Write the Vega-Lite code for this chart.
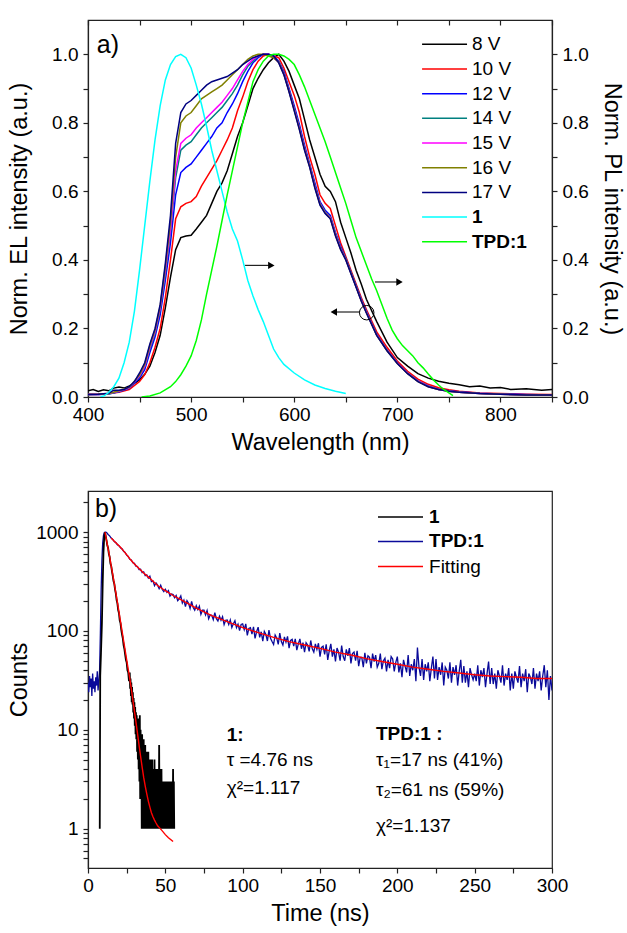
{
"$schema": "https://vega.github.io/schema/vega-lite/v6.json",
"padding": {"left": 6, "top": 18, "right": 0, "bottom": 0},
"spacing": 35,
"config": {
  "font": "Liberation Sans",
  "view": {"stroke": "#222", "strokeWidth": 1.2},
  "axis": {"domainColor": "#222", "domainWidth": 1.2, "tickColor": "#222", "tickWidth": 1.2, "tickSize": 5, "labelFontSize": 19, "labelColor": "#000", "titleFontSize": 23.5, "titleFontWeight": "normal", "titleColor": "#000", "grid": false, "labelFont": "Liberation Sans", "titleFont": "Liberation Sans", "labelOverlap": false, "labelBound": false, "labelFlush": false},
  "axisX": {"labelPadding": 3, "titlePadding": 6},
  "axisY": {"labelPadding": 5},
  "text": {"font": "Liberation Sans"}
},
"resolve": {"scale": {"color": "independent"}},
"datasets": {
"el": [
{"s":"8 V","wl":400,"i":0.018},{"s":"8 V","wl":405,"i":0.022},{"s":"8 V","wl":410,"i":0.016},{"s":"8 V","wl":415,"i":0.021},{"s":"8 V","wl":420,"i":0.018},{"s":"8 V","wl":425,"i":0.026},{"s":"8 V","wl":430,"i":0.029},{"s":"8 V","wl":435,"i":0.026},{"s":"8 V","wl":440,"i":0.032},{"s":"8 V","wl":445,"i":0.04},{"s":"8 V","wl":450,"i":0.05},{"s":"8 V","wl":455,"i":0.066},{"s":"8 V","wl":460,"i":0.09},{"s":"8 V","wl":465,"i":0.13},{"s":"8 V","wl":470,"i":0.18},{"s":"8 V","wl":475,"i":0.26},{"s":"8 V","wl":480,"i":0.35},{"s":"8 V","wl":485,"i":0.43},{"s":"8 V","wl":490,"i":0.465},{"s":"8 V","wl":495,"i":0.47},{"s":"8 V","wl":500,"i":0.472},{"s":"8 V","wl":505,"i":0.49},{"s":"8 V","wl":510,"i":0.51},{"s":"8 V","wl":515,"i":0.53},{"s":"8 V","wl":520,"i":0.565},{"s":"8 V","wl":525,"i":0.6},{"s":"8 V","wl":530,"i":0.625},{"s":"8 V","wl":535,"i":0.66},{"s":"8 V","wl":540,"i":0.71},{"s":"8 V","wl":545,"i":0.76},{"s":"8 V","wl":550,"i":0.8},{"s":"8 V","wl":555,"i":0.85},{"s":"8 V","wl":560,"i":0.9},{"s":"8 V","wl":565,"i":0.93},{"s":"8 V","wl":570,"i":0.955},{"s":"8 V","wl":575,"i":0.975},{"s":"8 V","wl":580,"i":0.99},{"s":"8 V","wl":585,"i":1.0},{"s":"8 V","wl":590,"i":0.98},{"s":"8 V","wl":595,"i":0.95},{"s":"8 V","wl":600,"i":0.91},{"s":"8 V","wl":605,"i":0.87},{"s":"8 V","wl":610,"i":0.81},{"s":"8 V","wl":615,"i":0.75},{"s":"8 V","wl":620,"i":0.7},{"s":"8 V","wl":625,"i":0.65},{"s":"8 V","wl":630,"i":0.615},{"s":"8 V","wl":635,"i":0.6},{"s":"8 V","wl":640,"i":0.57},{"s":"8 V","wl":645,"i":0.51},{"s":"8 V","wl":650,"i":0.465},{"s":"8 V","wl":655,"i":0.42},{"s":"8 V","wl":660,"i":0.37},{"s":"8 V","wl":665,"i":0.33},{"s":"8 V","wl":670,"i":0.285},{"s":"8 V","wl":680,"i":0.22},{"s":"8 V","wl":690,"i":0.16},{"s":"8 V","wl":700,"i":0.115},{"s":"8 V","wl":710,"i":0.09},{"s":"8 V","wl":720,"i":0.068},{"s":"8 V","wl":730,"i":0.055},{"s":"8 V","wl":740,"i":0.046},{"s":"8 V","wl":750,"i":0.04},{"s":"8 V","wl":760,"i":0.036},{"s":"8 V","wl":770,"i":0.03},{"s":"8 V","wl":780,"i":0.032},{"s":"8 V","wl":790,"i":0.026},{"s":"8 V","wl":800,"i":0.028},{"s":"8 V","wl":810,"i":0.022},{"s":"8 V","wl":825,"i":0.024},{"s":"8 V","wl":840,"i":0.02},{"s":"8 V","wl":850,"i":0.022},
{"s":"10 V","wl":400,"i":0.008},{"s":"10 V","wl":410,"i":0.008},{"s":"10 V","wl":420,"i":0.01},{"s":"10 V","wl":430,"i":0.014},{"s":"10 V","wl":440,"i":0.022},{"s":"10 V","wl":450,"i":0.045},{"s":"10 V","wl":455,"i":0.065},{"s":"10 V","wl":460,"i":0.1},{"s":"10 V","wl":465,"i":0.145},{"s":"10 V","wl":470,"i":0.2},{"s":"10 V","wl":475,"i":0.29},{"s":"10 V","wl":480,"i":0.4},{"s":"10 V","wl":485,"i":0.52},{"s":"10 V","wl":490,"i":0.555},{"s":"10 V","wl":495,"i":0.565},{"s":"10 V","wl":500,"i":0.57},{"s":"10 V","wl":505,"i":0.585},{"s":"10 V","wl":510,"i":0.615},{"s":"10 V","wl":515,"i":0.64},{"s":"10 V","wl":520,"i":0.665},{"s":"10 V","wl":525,"i":0.69},{"s":"10 V","wl":530,"i":0.72},{"s":"10 V","wl":535,"i":0.75},{"s":"10 V","wl":540,"i":0.785},{"s":"10 V","wl":545,"i":0.835},{"s":"10 V","wl":550,"i":0.875},{"s":"10 V","wl":555,"i":0.92},{"s":"10 V","wl":560,"i":0.955},{"s":"10 V","wl":565,"i":0.98},{"s":"10 V","wl":570,"i":0.995},{"s":"10 V","wl":575,"i":1.0},{"s":"10 V","wl":580,"i":0.995},{"s":"10 V","wl":585,"i":0.99},{"s":"10 V","wl":590,"i":0.96},{"s":"10 V","wl":595,"i":0.92},{"s":"10 V","wl":600,"i":0.88},{"s":"10 V","wl":605,"i":0.83},{"s":"10 V","wl":610,"i":0.76},{"s":"10 V","wl":615,"i":0.7},{"s":"10 V","wl":620,"i":0.65},{"s":"10 V","wl":625,"i":0.59},{"s":"10 V","wl":630,"i":0.565},{"s":"10 V","wl":635,"i":0.55},{"s":"10 V","wl":640,"i":0.5},{"s":"10 V","wl":645,"i":0.45},{"s":"10 V","wl":650,"i":0.41},{"s":"10 V","wl":655,"i":0.37},{"s":"10 V","wl":660,"i":0.33},{"s":"10 V","wl":665,"i":0.29},{"s":"10 V","wl":670,"i":0.255},{"s":"10 V","wl":680,"i":0.19},{"s":"10 V","wl":690,"i":0.145},{"s":"10 V","wl":700,"i":0.105},{"s":"10 V","wl":710,"i":0.075},{"s":"10 V","wl":720,"i":0.052},{"s":"10 V","wl":730,"i":0.037},{"s":"10 V","wl":740,"i":0.027},{"s":"10 V","wl":750,"i":0.021},{"s":"10 V","wl":760,"i":0.017},{"s":"10 V","wl":780,"i":0.012},{"s":"10 V","wl":800,"i":0.01},{"s":"10 V","wl":825,"i":0.008},{"s":"10 V","wl":850,"i":0.007},
{"s":"12 V","wl":400,"i":0.007},{"s":"12 V","wl":410,"i":0.007},{"s":"12 V","wl":420,"i":0.009},{"s":"12 V","wl":430,"i":0.015},{"s":"12 V","wl":440,"i":0.025},{"s":"12 V","wl":450,"i":0.055},{"s":"12 V","wl":455,"i":0.08},{"s":"12 V","wl":460,"i":0.13},{"s":"12 V","wl":465,"i":0.175},{"s":"12 V","wl":470,"i":0.24},{"s":"12 V","wl":475,"i":0.34},{"s":"12 V","wl":480,"i":0.45},{"s":"12 V","wl":485,"i":0.59},{"s":"12 V","wl":490,"i":0.655},{"s":"12 V","wl":495,"i":0.67},{"s":"12 V","wl":500,"i":0.68},{"s":"12 V","wl":505,"i":0.7},{"s":"12 V","wl":510,"i":0.72},{"s":"12 V","wl":515,"i":0.74},{"s":"12 V","wl":520,"i":0.76},{"s":"12 V","wl":525,"i":0.785},{"s":"12 V","wl":530,"i":0.8},{"s":"12 V","wl":535,"i":0.83},{"s":"12 V","wl":540,"i":0.855},{"s":"12 V","wl":545,"i":0.885},{"s":"12 V","wl":550,"i":0.92},{"s":"12 V","wl":555,"i":0.95},{"s":"12 V","wl":560,"i":0.975},{"s":"12 V","wl":565,"i":0.99},{"s":"12 V","wl":570,"i":1.0},{"s":"12 V","wl":575,"i":1.0},{"s":"12 V","wl":580,"i":0.995},{"s":"12 V","wl":585,"i":0.98},{"s":"12 V","wl":590,"i":0.95},{"s":"12 V","wl":595,"i":0.9},{"s":"12 V","wl":600,"i":0.85},{"s":"12 V","wl":605,"i":0.795},{"s":"12 V","wl":610,"i":0.735},{"s":"12 V","wl":615,"i":0.68},{"s":"12 V","wl":620,"i":0.625},{"s":"12 V","wl":625,"i":0.57},{"s":"12 V","wl":630,"i":0.545},{"s":"12 V","wl":635,"i":0.53},{"s":"12 V","wl":640,"i":0.48},{"s":"12 V","wl":645,"i":0.44},{"s":"12 V","wl":650,"i":0.405},{"s":"12 V","wl":655,"i":0.365},{"s":"12 V","wl":660,"i":0.325},{"s":"12 V","wl":665,"i":0.285},{"s":"12 V","wl":670,"i":0.25},{"s":"12 V","wl":680,"i":0.183},{"s":"12 V","wl":690,"i":0.137},{"s":"12 V","wl":700,"i":0.1},{"s":"12 V","wl":710,"i":0.07},{"s":"12 V","wl":720,"i":0.047},{"s":"12 V","wl":730,"i":0.032},{"s":"12 V","wl":740,"i":0.023},{"s":"12 V","wl":750,"i":0.018},{"s":"12 V","wl":760,"i":0.015},{"s":"12 V","wl":780,"i":0.011},{"s":"12 V","wl":800,"i":0.009},{"s":"12 V","wl":825,"i":0.007},{"s":"12 V","wl":850,"i":0.006},
{"s":"14 V","wl":400,"i":0.007},{"s":"14 V","wl":410,"i":0.007},{"s":"14 V","wl":420,"i":0.009},{"s":"14 V","wl":430,"i":0.016},{"s":"14 V","wl":440,"i":0.027},{"s":"14 V","wl":450,"i":0.06},{"s":"14 V","wl":455,"i":0.088},{"s":"14 V","wl":460,"i":0.14},{"s":"14 V","wl":465,"i":0.185},{"s":"14 V","wl":470,"i":0.255},{"s":"14 V","wl":475,"i":0.36},{"s":"14 V","wl":480,"i":0.48},{"s":"14 V","wl":485,"i":0.64},{"s":"14 V","wl":490,"i":0.72},{"s":"14 V","wl":495,"i":0.735},{"s":"14 V","wl":500,"i":0.745},{"s":"14 V","wl":505,"i":0.765},{"s":"14 V","wl":510,"i":0.785},{"s":"14 V","wl":515,"i":0.8},{"s":"14 V","wl":520,"i":0.815},{"s":"14 V","wl":525,"i":0.83},{"s":"14 V","wl":530,"i":0.845},{"s":"14 V","wl":535,"i":0.865},{"s":"14 V","wl":540,"i":0.885},{"s":"14 V","wl":545,"i":0.91},{"s":"14 V","wl":550,"i":0.94},{"s":"14 V","wl":555,"i":0.965},{"s":"14 V","wl":560,"i":0.98},{"s":"14 V","wl":565,"i":0.995},{"s":"14 V","wl":570,"i":1.0},{"s":"14 V","wl":575,"i":1.0},{"s":"14 V","wl":580,"i":0.99},{"s":"14 V","wl":585,"i":0.978},{"s":"14 V","wl":590,"i":0.945},{"s":"14 V","wl":595,"i":0.895},{"s":"14 V","wl":600,"i":0.842},{"s":"14 V","wl":605,"i":0.787},{"s":"14 V","wl":610,"i":0.727},{"s":"14 V","wl":615,"i":0.676},{"s":"14 V","wl":620,"i":0.617},{"s":"14 V","wl":625,"i":0.566},{"s":"14 V","wl":630,"i":0.54},{"s":"14 V","wl":635,"i":0.525},{"s":"14 V","wl":640,"i":0.476},{"s":"14 V","wl":645,"i":0.435},{"s":"14 V","wl":650,"i":0.404},{"s":"14 V","wl":655,"i":0.364},{"s":"14 V","wl":660,"i":0.323},{"s":"14 V","wl":665,"i":0.283},{"s":"14 V","wl":670,"i":0.248},{"s":"14 V","wl":680,"i":0.182},{"s":"14 V","wl":690,"i":0.136},{"s":"14 V","wl":700,"i":0.099},{"s":"14 V","wl":710,"i":0.069},{"s":"14 V","wl":720,"i":0.046},{"s":"14 V","wl":730,"i":0.031},{"s":"14 V","wl":740,"i":0.022},{"s":"14 V","wl":750,"i":0.017},{"s":"14 V","wl":760,"i":0.014},{"s":"14 V","wl":780,"i":0.01},{"s":"14 V","wl":800,"i":0.008},{"s":"14 V","wl":825,"i":0.006},{"s":"14 V","wl":850,"i":0.006},
{"s":"15 V","wl":400,"i":0.007},{"s":"15 V","wl":410,"i":0.007},{"s":"15 V","wl":420,"i":0.01},{"s":"15 V","wl":430,"i":0.017},{"s":"15 V","wl":440,"i":0.027},{"s":"15 V","wl":450,"i":0.062},{"s":"15 V","wl":455,"i":0.09},{"s":"15 V","wl":460,"i":0.145},{"s":"15 V","wl":465,"i":0.19},{"s":"15 V","wl":470,"i":0.26},{"s":"15 V","wl":475,"i":0.37},{"s":"15 V","wl":480,"i":0.49},{"s":"15 V","wl":485,"i":0.66},{"s":"15 V","wl":490,"i":0.74},{"s":"15 V","wl":495,"i":0.755},{"s":"15 V","wl":500,"i":0.765},{"s":"15 V","wl":505,"i":0.785},{"s":"15 V","wl":510,"i":0.8},{"s":"15 V","wl":515,"i":0.815},{"s":"15 V","wl":520,"i":0.83},{"s":"15 V","wl":525,"i":0.845},{"s":"15 V","wl":530,"i":0.86},{"s":"15 V","wl":535,"i":0.88},{"s":"15 V","wl":540,"i":0.9},{"s":"15 V","wl":545,"i":0.925},{"s":"15 V","wl":550,"i":0.95},{"s":"15 V","wl":555,"i":0.97},{"s":"15 V","wl":560,"i":0.985},{"s":"15 V","wl":565,"i":0.995},{"s":"15 V","wl":570,"i":1.0},{"s":"15 V","wl":575,"i":1.0},{"s":"15 V","wl":580,"i":0.99},{"s":"15 V","wl":585,"i":0.977},{"s":"15 V","wl":590,"i":0.943},{"s":"15 V","wl":595,"i":0.893},{"s":"15 V","wl":600,"i":0.84},{"s":"15 V","wl":605,"i":0.785},{"s":"15 V","wl":610,"i":0.725},{"s":"15 V","wl":615,"i":0.674},{"s":"15 V","wl":620,"i":0.615},{"s":"15 V","wl":625,"i":0.564},{"s":"15 V","wl":630,"i":0.538},{"s":"15 V","wl":635,"i":0.523},{"s":"15 V","wl":640,"i":0.474},{"s":"15 V","wl":645,"i":0.433},{"s":"15 V","wl":650,"i":0.402},{"s":"15 V","wl":655,"i":0.362},{"s":"15 V","wl":660,"i":0.322},{"s":"15 V","wl":665,"i":0.282},{"s":"15 V","wl":670,"i":0.247},{"s":"15 V","wl":680,"i":0.181},{"s":"15 V","wl":690,"i":0.136},{"s":"15 V","wl":700,"i":0.099},{"s":"15 V","wl":710,"i":0.069},{"s":"15 V","wl":720,"i":0.046},{"s":"15 V","wl":730,"i":0.031},{"s":"15 V","wl":740,"i":0.022},{"s":"15 V","wl":750,"i":0.017},{"s":"15 V","wl":760,"i":0.014},{"s":"15 V","wl":780,"i":0.01},{"s":"15 V","wl":800,"i":0.008},{"s":"15 V","wl":825,"i":0.006},{"s":"15 V","wl":850,"i":0.006},
{"s":"16 V","wl":400,"i":0.007},{"s":"16 V","wl":410,"i":0.008},{"s":"16 V","wl":420,"i":0.01},{"s":"16 V","wl":430,"i":0.018},{"s":"16 V","wl":440,"i":0.028},{"s":"16 V","wl":450,"i":0.065},{"s":"16 V","wl":455,"i":0.095},{"s":"16 V","wl":460,"i":0.15},{"s":"16 V","wl":465,"i":0.195},{"s":"16 V","wl":470,"i":0.265},{"s":"16 V","wl":475,"i":0.38},{"s":"16 V","wl":480,"i":0.51},{"s":"16 V","wl":485,"i":0.7},{"s":"16 V","wl":490,"i":0.8},{"s":"16 V","wl":495,"i":0.82},{"s":"16 V","wl":500,"i":0.83},{"s":"16 V","wl":505,"i":0.85},{"s":"16 V","wl":510,"i":0.87},{"s":"16 V","wl":515,"i":0.88},{"s":"16 V","wl":520,"i":0.89},{"s":"16 V","wl":525,"i":0.9},{"s":"16 V","wl":530,"i":0.91},{"s":"16 V","wl":535,"i":0.925},{"s":"16 V","wl":540,"i":0.94},{"s":"16 V","wl":545,"i":0.955},{"s":"16 V","wl":550,"i":0.97},{"s":"16 V","wl":555,"i":0.985},{"s":"16 V","wl":560,"i":0.995},{"s":"16 V","wl":565,"i":1.0},{"s":"16 V","wl":570,"i":1.0},{"s":"16 V","wl":575,"i":0.995},{"s":"16 V","wl":580,"i":0.99},{"s":"16 V","wl":585,"i":0.976},{"s":"16 V","wl":590,"i":0.941},{"s":"16 V","wl":595,"i":0.891},{"s":"16 V","wl":600,"i":0.837},{"s":"16 V","wl":605,"i":0.782},{"s":"16 V","wl":610,"i":0.722},{"s":"16 V","wl":615,"i":0.672},{"s":"16 V","wl":620,"i":0.612},{"s":"16 V","wl":625,"i":0.562},{"s":"16 V","wl":630,"i":0.537},{"s":"16 V","wl":635,"i":0.521},{"s":"16 V","wl":640,"i":0.472},{"s":"16 V","wl":645,"i":0.431},{"s":"16 V","wl":650,"i":0.401},{"s":"16 V","wl":655,"i":0.361},{"s":"16 V","wl":660,"i":0.321},{"s":"16 V","wl":665,"i":0.281},{"s":"16 V","wl":670,"i":0.246},{"s":"16 V","wl":680,"i":0.18},{"s":"16 V","wl":690,"i":0.135},{"s":"16 V","wl":700,"i":0.098},{"s":"16 V","wl":710,"i":0.068},{"s":"16 V","wl":720,"i":0.045},{"s":"16 V","wl":730,"i":0.03},{"s":"16 V","wl":740,"i":0.022},{"s":"16 V","wl":750,"i":0.017},{"s":"16 V","wl":760,"i":0.014},{"s":"16 V","wl":780,"i":0.01},{"s":"16 V","wl":800,"i":0.008},{"s":"16 V","wl":825,"i":0.006},{"s":"16 V","wl":850,"i":0.006},
{"s":"17 V","wl":400,"i":0.007},{"s":"17 V","wl":410,"i":0.008},{"s":"17 V","wl":420,"i":0.011},{"s":"17 V","wl":425,"i":0.02},{"s":"17 V","wl":430,"i":0.02},{"s":"17 V","wl":435,"i":0.022},{"s":"17 V","wl":440,"i":0.03},{"s":"17 V","wl":445,"i":0.045},{"s":"17 V","wl":450,"i":0.07},{"s":"17 V","wl":455,"i":0.1},{"s":"17 V","wl":460,"i":0.155},{"s":"17 V","wl":465,"i":0.2},{"s":"17 V","wl":470,"i":0.27},{"s":"17 V","wl":475,"i":0.39},{"s":"17 V","wl":480,"i":0.53},{"s":"17 V","wl":485,"i":0.74},{"s":"17 V","wl":490,"i":0.83},{"s":"17 V","wl":495,"i":0.855},{"s":"17 V","wl":500,"i":0.865},{"s":"17 V","wl":505,"i":0.88},{"s":"17 V","wl":510,"i":0.895},{"s":"17 V","wl":515,"i":0.91},{"s":"17 V","wl":520,"i":0.92},{"s":"17 V","wl":525,"i":0.925},{"s":"17 V","wl":530,"i":0.93},{"s":"17 V","wl":535,"i":0.935},{"s":"17 V","wl":540,"i":0.945},{"s":"17 V","wl":545,"i":0.955},{"s":"17 V","wl":550,"i":0.97},{"s":"17 V","wl":555,"i":0.98},{"s":"17 V","wl":560,"i":0.99},{"s":"17 V","wl":565,"i":0.995},{"s":"17 V","wl":570,"i":1.0},{"s":"17 V","wl":575,"i":1.0},{"s":"17 V","wl":580,"i":0.995},{"s":"17 V","wl":585,"i":0.975},{"s":"17 V","wl":590,"i":0.94},{"s":"17 V","wl":595,"i":0.89},{"s":"17 V","wl":600,"i":0.835},{"s":"17 V","wl":605,"i":0.78},{"s":"17 V","wl":610,"i":0.72},{"s":"17 V","wl":615,"i":0.67},{"s":"17 V","wl":620,"i":0.61},{"s":"17 V","wl":625,"i":0.56},{"s":"17 V","wl":630,"i":0.535},{"s":"17 V","wl":635,"i":0.52},{"s":"17 V","wl":640,"i":0.47},{"s":"17 V","wl":645,"i":0.43},{"s":"17 V","wl":650,"i":0.4},{"s":"17 V","wl":655,"i":0.36},{"s":"17 V","wl":660,"i":0.32},{"s":"17 V","wl":665,"i":0.28},{"s":"17 V","wl":670,"i":0.245},{"s":"17 V","wl":680,"i":0.18},{"s":"17 V","wl":690,"i":0.135},{"s":"17 V","wl":700,"i":0.098},{"s":"17 V","wl":710,"i":0.068},{"s":"17 V","wl":720,"i":0.045},{"s":"17 V","wl":730,"i":0.03},{"s":"17 V","wl":740,"i":0.022},{"s":"17 V","wl":750,"i":0.017},{"s":"17 V","wl":760,"i":0.014},{"s":"17 V","wl":780,"i":0.01},{"s":"17 V","wl":800,"i":0.008},{"s":"17 V","wl":825,"i":0.006},{"s":"17 V","wl":850,"i":0.006}
],
"pl": [
{"s":"1","wl":412,"i":0.0},{"s":"1","wl":416,"i":0.004},{"s":"1","wl":420,"i":0.013},{"s":"1","wl":425,"i":0.03},{"s":"1","wl":430,"i":0.055},{"s":"1","wl":435,"i":0.1},{"s":"1","wl":440,"i":0.16},{"s":"1","wl":445,"i":0.25},{"s":"1","wl":450,"i":0.37},{"s":"1","wl":455,"i":0.5},{"s":"1","wl":460,"i":0.63},{"s":"1","wl":465,"i":0.75},{"s":"1","wl":470,"i":0.85},{"s":"1","wl":475,"i":0.925},{"s":"1","wl":480,"i":0.97},{"s":"1","wl":485,"i":0.993},{"s":"1","wl":490,"i":1.0},{"s":"1","wl":495,"i":0.99},{"s":"1","wl":500,"i":0.96},{"s":"1","wl":505,"i":0.91},{"s":"1","wl":510,"i":0.855},{"s":"1","wl":515,"i":0.79},{"s":"1","wl":520,"i":0.72},{"s":"1","wl":525,"i":0.66},{"s":"1","wl":530,"i":0.6},{"s":"1","wl":535,"i":0.54},{"s":"1","wl":540,"i":0.49},{"s":"1","wl":545,"i":0.455},{"s":"1","wl":550,"i":0.4},{"s":"1","wl":555,"i":0.34},{"s":"1","wl":560,"i":0.295},{"s":"1","wl":565,"i":0.255},{"s":"1","wl":570,"i":0.22},{"s":"1","wl":575,"i":0.18},{"s":"1","wl":580,"i":0.14},{"s":"1","wl":585,"i":0.115},{"s":"1","wl":590,"i":0.095},{"s":"1","wl":600,"i":0.07},{"s":"1","wl":610,"i":0.05},{"s":"1","wl":620,"i":0.035},{"s":"1","wl":630,"i":0.025},{"s":"1","wl":640,"i":0.017},{"s":"1","wl":650,"i":0.01},
{"s":"TPD:1","wl":452,"i":0.0},{"s":"TPD:1","wl":460,"i":0.003},{"s":"TPD:1","wl":470,"i":0.012},{"s":"TPD:1","wl":480,"i":0.03},{"s":"TPD:1","wl":485,"i":0.045},{"s":"TPD:1","wl":490,"i":0.065},{"s":"TPD:1","wl":495,"i":0.09},{"s":"TPD:1","wl":500,"i":0.12},{"s":"TPD:1","wl":505,"i":0.165},{"s":"TPD:1","wl":510,"i":0.225},{"s":"TPD:1","wl":515,"i":0.3},{"s":"TPD:1","wl":520,"i":0.37},{"s":"TPD:1","wl":525,"i":0.44},{"s":"TPD:1","wl":530,"i":0.515},{"s":"TPD:1","wl":535,"i":0.59},{"s":"TPD:1","wl":540,"i":0.66},{"s":"TPD:1","wl":545,"i":0.73},{"s":"TPD:1","wl":550,"i":0.8},{"s":"TPD:1","wl":555,"i":0.86},{"s":"TPD:1","wl":560,"i":0.92},{"s":"TPD:1","wl":565,"i":0.955},{"s":"TPD:1","wl":570,"i":0.98},{"s":"TPD:1","wl":575,"i":0.995},{"s":"TPD:1","wl":580,"i":1.0},{"s":"TPD:1","wl":585,"i":1.0},{"s":"TPD:1","wl":590,"i":0.995},{"s":"TPD:1","wl":595,"i":0.985},{"s":"TPD:1","wl":600,"i":0.97},{"s":"TPD:1","wl":605,"i":0.94},{"s":"TPD:1","wl":610,"i":0.905},{"s":"TPD:1","wl":615,"i":0.865},{"s":"TPD:1","wl":620,"i":0.825},{"s":"TPD:1","wl":625,"i":0.785},{"s":"TPD:1","wl":630,"i":0.745},{"s":"TPD:1","wl":635,"i":0.7},{"s":"TPD:1","wl":640,"i":0.655},{"s":"TPD:1","wl":645,"i":0.61},{"s":"TPD:1","wl":650,"i":0.565},{"s":"TPD:1","wl":655,"i":0.515},{"s":"TPD:1","wl":660,"i":0.465},{"s":"TPD:1","wl":665,"i":0.425},{"s":"TPD:1","wl":670,"i":0.385},{"s":"TPD:1","wl":675,"i":0.345},{"s":"TPD:1","wl":680,"i":0.31},{"s":"TPD:1","wl":685,"i":0.27},{"s":"TPD:1","wl":690,"i":0.23},{"s":"TPD:1","wl":695,"i":0.195},{"s":"TPD:1","wl":700,"i":0.17},{"s":"TPD:1","wl":705,"i":0.15},{"s":"TPD:1","wl":710,"i":0.135},{"s":"TPD:1","wl":715,"i":0.12},{"s":"TPD:1","wl":720,"i":0.1},{"s":"TPD:1","wl":725,"i":0.085},{"s":"TPD:1","wl":730,"i":0.067},{"s":"TPD:1","wl":735,"i":0.05},{"s":"TPD:1","wl":740,"i":0.035},{"s":"TPD:1","wl":745,"i":0.022},{"s":"TPD:1","wl":750,"i":0.012},{"s":"TPD:1","wl":754,"i":0.004}
],
"legTop": [
{"s":"8 V","ly":1.029},{"s":"10 V","ly":0.957},{"s":"12 V","ly":0.885},{"s":"14 V","ly":0.813},{"s":"15 V","ly":0.741},{"s":"16 V","ly":0.669},{"s":"17 V","ly":0.597},{"s":"1","ly":0.525},{"s":"TPD:1","ly":0.453}
],
"decay": [
{"s":"TPD:1","t":0,"c":30},{"s":"TPD:1","t":0.5,"c":24},{"s":"TPD:1","t":1,"c":35},{"s":"TPD:1","t":1.5,"c":27},{"s":"TPD:1","t":2,"c":33},{"s":"TPD:1","t":2.5,"c":22},{"s":"TPD:1","t":3,"c":37},{"s":"TPD:1","t":3.5,"c":26},{"s":"TPD:1","t":4,"c":31},{"s":"TPD:1","t":4.5,"c":24},{"s":"TPD:1","t":5,"c":34},{"s":"TPD:1","t":5.5,"c":28},{"s":"TPD:1","t":6,"c":39},{"s":"TPD:1","t":6.5,"c":25},{"s":"TPD:1","t":7,"c":31},{"s":"TPD:1","t":7.5,"c":40},{"s":"TPD:1","t":8,"c":95},{"s":"TPD:1","t":8.5,"c":260},{"s":"TPD:1","t":9,"c":520},{"s":"TPD:1","t":9.5,"c":780},{"s":"TPD:1","t":10,"c":920},{"s":"TPD:1","t":10.5,"c":985},{"s":"TPD:1","t":11,"c":1000},{"s":"TPD:1","t":11.5,"c":1000},
{"s":"TPD:1","t":12,"c":990},{"s":"TPD:1","t":13,"c":945},{"s":"TPD:1","t":14,"c":915},{"s":"TPD:1","t":15,"c":870},{"s":"TPD:1","t":16,"c":842},{"s":"TPD:1","t":17,"c":800},{"s":"TPD:1","t":18,"c":782},{"s":"TPD:1","t":19,"c":745},{"s":"TPD:1","t":20,"c":728},{"s":"TPD:1","t":21,"c":692},{"s":"TPD:1","t":22,"c":676},{"s":"TPD:1","t":23,"c":640},{"s":"TPD:1","t":24,"c":622},{"s":"TPD:1","t":25,"c":583},{"s":"TPD:1","t":26,"c":566},{"s":"TPD:1","t":27,"c":530},{"s":"TPD:1","t":28,"c":522},{"s":"TPD:1","t":29,"c":488},{"s":"TPD:1","t":30,"c":482},{"s":"TPD:1","t":31,"c":452},{"s":"TPD:1","t":32,"c":448},{"s":"TPD:1","t":33,"c":418},{"s":"TPD:1","t":34,"c":420},{"s":"TPD:1","t":35,"c":388},{"s":"TPD:1","t":36,"c":395},{"s":"TPD:1","t":37,"c":362},{"s":"TPD:1","t":38,"c":368},{"s":"TPD:1","t":39,"c":342},
{"s":"TPD:1","t":40,"c":358},{"s":"TPD:1","t":41,"c":315},{"s":"TPD:1","t":42,"c":321},{"s":"TPD:1","t":43,"c":287},{"s":"TPD:1","t":44,"c":305},{"s":"TPD:1","t":45,"c":290},{"s":"TPD:1","t":46,"c":267},{"s":"TPD:1","t":47,"c":289},{"s":"TPD:1","t":48,"c":262},{"s":"TPD:1","t":49,"c":250},{"s":"TPD:1","t":50,"c":264},{"s":"TPD:1","t":51,"c":246},{"s":"TPD:1","t":52,"c":256},{"s":"TPD:1","t":53,"c":225},{"s":"TPD:1","t":54,"c":236},{"s":"TPD:1","t":55,"c":233},{"s":"TPD:1","t":56,"c":217},{"s":"TPD:1","t":57,"c":228},{"s":"TPD:1","t":58,"c":202},{"s":"TPD:1","t":59,"c":211},
{"s":"TPD:1","t":60,"c":226},{"s":"TPD:1","t":61,"c":191},{"s":"TPD:1","t":62,"c":205},{"s":"TPD:1","t":63,"c":176},{"s":"TPD:1","t":64,"c":202},{"s":"TPD:1","t":65,"c":190},{"s":"TPD:1","t":66,"c":169},{"s":"TPD:1","t":67,"c":199},{"s":"TPD:1","t":68,"c":172},{"s":"TPD:1","t":69,"c":162},{"s":"TPD:1","t":70,"c":180},{"s":"TPD:1","t":71,"c":164},{"s":"TPD:1","t":72,"c":178},{"s":"TPD:1","t":73,"c":147},{"s":"TPD:1","t":74,"c":162},{"s":"TPD:1","t":75,"c":162},{"s":"TPD:1","t":76,"c":145},{"s":"TPD:1","t":77,"c":161},{"s":"TPD:1","t":78,"c":133},{"s":"TPD:1","t":79,"c":145},
{"s":"TPD:1","t":80,"c":144},{"s":"TPD:1","t":81,"c":130},{"s":"TPD:1","t":82,"c":153},{"s":"TPD:1","t":83,"c":133},{"s":"TPD:1","t":84,"c":126},{"s":"TPD:1","t":85,"c":141},{"s":"TPD:1","t":86,"c":128},{"s":"TPD:1","t":87,"c":139},{"s":"TPD:1","t":88,"c":116},{"s":"TPD:1","t":89,"c":128},{"s":"TPD:1","t":90,"c":129},{"s":"TPD:1","t":91,"c":116},{"s":"TPD:1","t":92,"c":129},{"s":"TPD:1","t":93,"c":108},{"s":"TPD:1","t":94,"c":118},{"s":"TPD:1","t":95,"c":127},{"s":"TPD:1","t":96,"c":108},{"s":"TPD:1","t":97,"c":117},{"s":"TPD:1","t":98,"c":101},{"s":"TPD:1","t":99,"c":116},
{"s":"TPD:1","t":100,"c":118},{"s":"TPD:1","t":101,"c":103},{"s":"TPD:1","t":102,"c":118},{"s":"TPD:1","t":103,"c":90},{"s":"TPD:1","t":104,"c":106},{"s":"TPD:1","t":105,"c":108},{"s":"TPD:1","t":106,"c":93},{"s":"TPD:1","t":107,"c":110},{"s":"TPD:1","t":108,"c":84},{"s":"TPD:1","t":109,"c":98},{"s":"TPD:1","t":110,"c":109},{"s":"TPD:1","t":111,"c":86},{"s":"TPD:1","t":112,"c":98},{"s":"TPD:1","t":113,"c":79},{"s":"TPD:1","t":114,"c":99},{"s":"TPD:1","t":115,"c":92},{"s":"TPD:1","t":116,"c":79},{"s":"TPD:1","t":117,"c":102},{"s":"TPD:1","t":118,"c":84},{"s":"TPD:1","t":119,"c":78},
{"s":"TPD:1","t":120,"c":73},{"s":"TPD:1","t":121,"c":91},{"s":"TPD:1","t":122,"c":85},{"s":"TPD:1","t":123,"c":73},{"s":"TPD:1","t":124,"c":95},{"s":"TPD:1","t":125,"c":78},{"s":"TPD:1","t":126,"c":72},{"s":"TPD:1","t":127,"c":87},{"s":"TPD:1","t":128,"c":77},{"s":"TPD:1","t":129,"c":88},{"s":"TPD:1","t":130,"c":67},{"s":"TPD:1","t":131,"c":80},{"s":"TPD:1","t":132,"c":82},{"s":"TPD:1","t":133,"c":70},{"s":"TPD:1","t":134,"c":83},{"s":"TPD:1","t":135,"c":64},{"s":"TPD:1","t":136,"c":74},{"s":"TPD:1","t":137,"c":83},{"s":"TPD:1","t":138,"c":66},{"s":"TPD:1","t":139,"c":76},
{"s":"TPD:1","t":140,"c":61},{"s":"TPD:1","t":141,"c":76},{"s":"TPD:1","t":142,"c":72},{"s":"TPD:1","t":143,"c":62},{"s":"TPD:1","t":144,"c":80},{"s":"TPD:1","t":145,"c":66},{"s":"TPD:1","t":146,"c":61},{"s":"TPD:1","t":147,"c":74},{"s":"TPD:1","t":148,"c":65},{"s":"TPD:1","t":149,"c":75},
{"s":"TPD:1","t":150,"c":55},{"s":"TPD:1","t":151,"c":68},{"s":"TPD:1","t":152,"c":70},{"s":"TPD:1","t":153,"c":58},{"s":"TPD:1","t":154,"c":73},{"s":"TPD:1","t":155,"c":51},{"s":"TPD:1","t":156,"c":63},{"s":"TPD:1","t":157,"c":74},{"s":"TPD:1","t":158,"c":55},{"s":"TPD:1","t":159,"c":65},{"s":"TPD:1","t":160,"c":49},{"s":"TPD:1","t":161,"c":67},{"s":"TPD:1","t":162,"c":61},{"s":"TPD:1","t":163,"c":50},{"s":"TPD:1","t":164,"c":71},{"s":"TPD:1","t":165,"c":55},{"s":"TPD:1","t":166,"c":50},{"s":"TPD:1","t":167,"c":65},{"s":"TPD:1","t":168,"c":56},{"s":"TPD:1","t":169,"c":67},{"s":"TPD:1","t":170,"c":47},{"s":"TPD:1","t":171,"c":59},{"s":"TPD:1","t":172,"c":61},{"s":"TPD:1","t":173,"c":50},{"s":"TPD:1","t":174,"c":63},{"s":"TPD:1","t":175,"c":44},{"s":"TPD:1","t":176,"c":54},{"s":"TPD:1","t":177,"c":54},{"s":"TPD:1","t":178,"c":43},{"s":"TPD:1","t":179,"c":60},{"s":"TPD:1","t":180,"c":47},{"s":"TPD:1","t":181,"c":56},{"s":"TPD:1","t":182,"c":54},{"s":"TPD:1","t":183,"c":42},{"s":"TPD:1","t":184,"c":59},{"s":"TPD:1","t":185,"c":49},{"s":"TPD:1","t":186,"c":57},{"s":"TPD:1","t":187,"c":43},{"s":"TPD:1","t":188,"c":47},{"s":"TPD:1","t":189,"c":59},{"s":"TPD:1","t":190,"c":41},{"s":"TPD:1","t":191,"c":50},{"s":"TPD:1","t":192,"c":53},{"s":"TPD:1","t":193,"c":39},{"s":"TPD:1","t":194,"c":51},{"s":"TPD:1","t":195,"c":42},{"s":"TPD:1","t":196,"c":55},{"s":"TPD:1","t":197,"c":52},{"s":"TPD:1","t":198,"c":39},{"s":"TPD:1","t":199,"c":48},
{"s":"TPD:1","t":200,"c":55},{"s":"TPD:1","t":201,"c":38},{"s":"TPD:1","t":202,"c":47},{"s":"TPD:1","t":203,"c":34},{"s":"TPD:1","t":204,"c":51},{"s":"TPD:1","t":205,"c":44},{"s":"TPD:1","t":206,"c":38},{"s":"TPD:1","t":207,"c":57},{"s":"TPD:1","t":208,"c":35},{"s":"TPD:1","t":209,"c":46},{"s":"TPD:1","t":210,"c":40},{"s":"TPD:1","t":211,"c":52},{"s":"TPD:1","t":212,"c":31},{"s":"TPD:1","t":213,"c":68},{"s":"TPD:1","t":214,"c":43},{"s":"TPD:1","t":215,"c":35},{"s":"TPD:1","t":216,"c":52},{"s":"TPD:1","t":217,"c":32},{"s":"TPD:1","t":218,"c":46},{"s":"TPD:1","t":219,"c":39},{"s":"TPD:1","t":220,"c":48},{"s":"TPD:1","t":221,"c":31},{"s":"TPD:1","t":222,"c":42},{"s":"TPD:1","t":223,"c":55},{"s":"TPD:1","t":224,"c":33},
{"s":"TPD:1","t":225,"c":52},{"s":"TPD:1","t":226,"c":32},{"s":"TPD:1","t":227,"c":43},{"s":"TPD:1","t":228,"c":36},{"s":"TPD:1","t":229,"c":48},{"s":"TPD:1","t":230,"c":28},{"s":"TPD:1","t":231,"c":43},{"s":"TPD:1","t":232,"c":40},{"s":"TPD:1","t":233,"c":33},{"s":"TPD:1","t":234,"c":48},{"s":"TPD:1","t":235,"c":30},{"s":"TPD:1","t":236,"c":43},{"s":"TPD:1","t":237,"c":36},{"s":"TPD:1","t":238,"c":45},{"s":"TPD:1","t":239,"c":28},{"s":"TPD:1","t":240,"c":39},{"s":"TPD:1","t":241,"c":51},{"s":"TPD:1","t":242,"c":30},{"s":"TPD:1","t":243,"c":44},{"s":"TPD:1","t":244,"c":30},{"s":"TPD:1","t":245,"c":39},{"s":"TPD:1","t":246,"c":27},{"s":"TPD:1","t":247,"c":42},{"s":"TPD:1","t":248,"c":36},{"s":"TPD:1","t":249,"c":32},
{"s":"TPD:1","t":250,"c":37},{"s":"TPD:1","t":251,"c":31},{"s":"TPD:1","t":252,"c":45},{"s":"TPD:1","t":253,"c":28},{"s":"TPD:1","t":254,"c":40},{"s":"TPD:1","t":255,"c":34},{"s":"TPD:1","t":256,"c":42},{"s":"TPD:1","t":257,"c":27},{"s":"TPD:1","t":258,"c":37},{"s":"TPD:1","t":259,"c":49},{"s":"TPD:1","t":260,"c":29},{"s":"TPD:1","t":261,"c":42},{"s":"TPD:1","t":262,"c":29},{"s":"TPD:1","t":263,"c":37},{"s":"TPD:1","t":264,"c":26},{"s":"TPD:1","t":265,"c":40},{"s":"TPD:1","t":266,"c":35},{"s":"TPD:1","t":267,"c":30},{"s":"TPD:1","t":268,"c":45},{"s":"TPD:1","t":269,"c":28},{"s":"TPD:1","t":270,"c":37},{"s":"TPD:1","t":271,"c":32},{"s":"TPD:1","t":272,"c":42},{"s":"TPD:1","t":273,"c":25},{"s":"TPD:1","t":274,"c":37},
{"s":"TPD:1","t":275,"c":26},{"s":"TPD:1","t":276,"c":39},{"s":"TPD:1","t":277,"c":34},{"s":"TPD:1","t":278,"c":30},{"s":"TPD:1","t":279,"c":44},{"s":"TPD:1","t":280,"c":27},{"s":"TPD:1","t":281,"c":37},{"s":"TPD:1","t":282,"c":31},{"s":"TPD:1","t":283,"c":41},{"s":"TPD:1","t":284,"c":24},{"s":"TPD:1","t":285,"c":37},{"s":"TPD:1","t":286,"c":34},{"s":"TPD:1","t":287,"c":29},{"s":"TPD:1","t":288,"c":42},{"s":"TPD:1","t":289,"c":26},{"s":"TPD:1","t":290,"c":37},{"s":"TPD:1","t":291,"c":31},{"s":"TPD:1","t":292,"c":39},{"s":"TPD:1","t":293,"c":25},{"s":"TPD:1","t":294,"c":35},{"s":"TPD:1","t":295,"c":45},{"s":"TPD:1","t":296,"c":27},{"s":"TPD:1","t":297,"c":40},{"s":"TPD:1","t":298,"c":20},{"s":"TPD:1","t":299,"c":35},{"s":"TPD:1","t":300,"c":25},
{"s":"1","t":7.6,"c":1},{"s":"1","t":7.9,"c":35},{"s":"1","t":8.4,"c":60},{"s":"1","t":9,"c":120},{"s":"1","t":9.5,"c":300},{"s":"1","t":10,"c":620},{"s":"1","t":10.5,"c":900},{"s":"1","t":11,"c":1000},{"s":"1","t":11.5,"c":900},{"s":"1","t":12,"c":820},{"s":"1","t":12.5,"c":730},{"s":"1","t":13,"c":690},{"s":"1","t":13.5,"c":600},{"s":"1","t":14,"c":560},{"s":"1","t":14.5,"c":480},{"s":"1","t":15,"c":455},{"s":"1","t":15.5,"c":400},{"s":"1","t":16,"c":360},{"s":"1","t":16.5,"c":320},{"s":"1","t":17,"c":300},{"s":"1","t":17.5,"c":262},{"s":"1","t":18,"c":238},{"s":"1","t":18.5,"c":205},{"s":"1","t":19,"c":190},{"s":"1","t":19.5,"c":162},{"s":"1","t":20,"c":152},{"s":"1","t":20.5,"c":128},{"s":"1","t":21,"c":120},{"s":"1","t":21.5,"c":103},{"s":"1","t":22,"c":92},{"s":"1","t":22.5,"c":84},{"s":"1","t":23,"c":72},{"s":"1","t":23.5,"c":66},{"s":"1","t":24,"c":58},{"s":"1","t":24.5,"c":51},{"s":"1","t":25,"c":48},{"s":"1","t":25.5,"c":40},{"s":"1","t":26,"c":38},{"s":"1","t":26.5,"c":31},
{"s":"1","t":27,"c":38},{"s":"1","t":27.25,"c":26},{"s":"1","t":27.5,"c":33},{"s":"1","t":27.75,"c":22},{"s":"1","t":28,"c":30},{"s":"1","t":28.25,"c":19},{"s":"1","t":28.5,"c":27},{"s":"1","t":28.75,"c":18},{"s":"1","t":29,"c":24},{"s":"1","t":29.25,"c":15},{"s":"1","t":29.5,"c":21},{"s":"1","t":29.75,"c":13},{"s":"1","t":30,"c":19},{"s":"1","t":30.25,"c":11},{"s":"1","t":30.5,"c":17},{"s":"1","t":30.75,"c":9},{"s":"1","t":31,"c":15},{"s":"1","t":31.25,"c":8},{"s":"1","t":31.5,"c":14},{"s":"1","t":31.75,"c":6},{"s":"1","t":32,"c":12},{"s":"1","t":32.25,"c":5},{"s":"1","t":32.5,"c":13},{"s":"1","t":32.75,"c":4},{"s":"1","t":33,"c":11},{"s":"1","t":33.25,"c":3},{"s":"1","t":33.5,"c":14},{"s":"1","t":33.75,"c":2},{"s":"1","t":34,"c":10},{"s":"1","t":34.25,"c":3},{"s":"1","t":34.5,"c":8},{"s":"1","t":34.75,"c":1},{"s":"1","t":35,"c":9},{"s":"1","t":35.25,"c":2},{"s":"1","t":35.5,"c":7},{"s":"1","t":35.75,"c":1},{"s":"1","t":36,"c":8},{"s":"1","t":36.25,"c":1},{"s":"1","t":36.5,"c":6},{"s":"1","t":36.75,"c":2},{"s":"1","t":37,"c":7},{"s":"1","t":37.25,"c":1},{"s":"1","t":37.5,"c":5},{"s":"1","t":37.75,"c":1},{"s":"1","t":38,"c":6},{"s":"1","t":38.25,"c":1},{"s":"1","t":38.5,"c":4},{"s":"1","t":38.75,"c":1},{"s":"1","t":39,"c":6},{"s":"1","t":39.25,"c":1},{"s":"1","t":39.5,"c":5},{"s":"1","t":39.75,"c":1},{"s":"1","t":40,"c":4},{"s":"1","t":40.25,"c":1},{"s":"1","t":40.5,"c":5},{"s":"1","t":40.75,"c":1},{"s":"1","t":41,"c":3},{"s":"1","t":41.25,"c":1},{"s":"1","t":41.5,"c":5},{"s":"1","t":41.75,"c":1},{"s":"1","t":42,"c":4},{"s":"1","t":42.25,"c":1},{"s":"1","t":42.5,"c":3},{"s":"1","t":42.75,"c":1},{"s":"1","t":43,"c":5},{"s":"1","t":43.25,"c":1},{"s":"1","t":43.5,"c":3},{"s":"1","t":43.75,"c":1},{"s":"1","t":44,"c":4},{"s":"1","t":44.25,"c":1},{"s":"1","t":44.5,"c":2},{"s":"1","t":44.75,"c":1},{"s":"1","t":45,"c":4},{"s":"1","t":45.25,"c":1},{"s":"1","t":45.5,"c":3},{"s":"1","t":45.75,"c":1},{"s":"1","t":46,"c":7},{"s":"1","t":46.25,"c":1},{"s":"1","t":46.5,"c":4},{"s":"1","t":46.75,"c":1},{"s":"1","t":47,"c":3},{"s":"1","t":47.25,"c":1},{"s":"1","t":47.5,"c":4},{"s":"1","t":47.75,"c":1},{"s":"1","t":48,"c":2},{"s":"1","t":48.25,"c":1},{"s":"1","t":48.5,"c":3},{"s":"1","t":48.75,"c":1},{"s":"1","t":49,"c":3},{"s":"1","t":49.25,"c":1},{"s":"1","t":49.5,"c":2},{"s":"1","t":49.75,"c":1},{"s":"1","t":50,"c":3},{"s":"1","t":50.25,"c":1},{"s":"1","t":50.5,"c":3},{"s":"1","t":50.75,"c":1},{"s":"1","t":51,"c":2},{"s":"1","t":51.25,"c":1},{"s":"1","t":51.5,"c":3},{"s":"1","t":51.75,"c":1},{"s":"1","t":52,"c":3},{"s":"1","t":52.25,"c":1},{"s":"1","t":52.5,"c":2},{"s":"1","t":52.75,"c":1},{"s":"1","t":53,"c":3},{"s":"1","t":53.25,"c":1},{"s":"1","t":53.5,"c":2},{"s":"1","t":53.75,"c":1},{"s":"1","t":54,"c":3},{"s":"1","t":54.25,"c":1},{"s":"1","t":54.5,"c":2},{"s":"1","t":54.75,"c":1},{"s":"1","t":55,"c":4},{"s":"1","t":55.25,"c":1},{"s":"1","t":55.5,"c":3},{"s":"1","t":55.75,"c":1}
],
"fit": [
{"s":"Fitting","curve":"1","t":11,"c":1000},{"s":"Fitting","curve":"1","t":12,"c":820},{"s":"Fitting","curve":"1","t":13,"c":680},{"s":"Fitting","curve":"1","t":14,"c":560},{"s":"Fitting","curve":"1","t":15,"c":455},{"s":"Fitting","curve":"1","t":16,"c":370},{"s":"Fitting","curve":"1","t":17,"c":300},{"s":"Fitting","curve":"1","t":18,"c":242},{"s":"Fitting","curve":"1","t":19,"c":195},{"s":"Fitting","curve":"1","t":20,"c":157},{"s":"Fitting","curve":"1","t":21,"c":125},{"s":"Fitting","curve":"1","t":22,"c":100},{"s":"Fitting","curve":"1","t":23,"c":80},{"s":"Fitting","curve":"1","t":24,"c":64},{"s":"Fitting","curve":"1","t":25,"c":51},{"s":"Fitting","curve":"1","t":26,"c":41},{"s":"Fitting","curve":"1","t":27,"c":33},{"s":"Fitting","curve":"1","t":28,"c":26},{"s":"Fitting","curve":"1","t":29,"c":20},{"s":"Fitting","curve":"1","t":30,"c":15.5},{"s":"Fitting","curve":"1","t":31,"c":12},{"s":"Fitting","curve":"1","t":32,"c":9.2},{"s":"Fitting","curve":"1","t":33,"c":7},{"s":"Fitting","curve":"1","t":34,"c":5.4},{"s":"Fitting","curve":"1","t":35,"c":4.2},{"s":"Fitting","curve":"1","t":36,"c":3.3},{"s":"Fitting","curve":"1","t":37,"c":2.7},{"s":"Fitting","curve":"1","t":38,"c":2.25},{"s":"Fitting","curve":"1","t":39,"c":1.9},{"s":"Fitting","curve":"1","t":40,"c":1.65},{"s":"Fitting","curve":"1","t":41,"c":1.45},{"s":"Fitting","curve":"1","t":42,"c":1.32},{"s":"Fitting","curve":"1","t":43,"c":1.22},{"s":"Fitting","curve":"1","t":44,"c":1.14},{"s":"Fitting","curve":"1","t":45,"c":1.07},{"s":"Fitting","curve":"1","t":46,"c":1.03},{"s":"Fitting","curve":"1","t":48,"c":0.95},{"s":"Fitting","curve":"1","t":50,"c":0.87},{"s":"Fitting","curve":"1","t":52,"c":0.81},{"s":"Fitting","curve":"1","t":55,"c":0.74},
{"s":"Fitting","curve":"TPD:1","t":15,"c":870},{"s":"Fitting","curve":"TPD:1","t":17,"c":805},{"s":"Fitting","curve":"TPD:1","t":19,"c":752},{"s":"Fitting","curve":"TPD:1","t":21,"c":700},{"s":"Fitting","curve":"TPD:1","t":23,"c":645},{"s":"Fitting","curve":"TPD:1","t":25,"c":590},{"s":"Fitting","curve":"TPD:1","t":27,"c":537},{"s":"Fitting","curve":"TPD:1","t":30,"c":475},{"s":"Fitting","curve":"TPD:1","t":33,"c":428},{"s":"Fitting","curve":"TPD:1","t":36,"c":385},{"s":"Fitting","curve":"TPD:1","t":40,"c":340},{"s":"Fitting","curve":"TPD:1","t":45,"c":288},{"s":"Fitting","curve":"TPD:1","t":50,"c":255},{"s":"Fitting","curve":"TPD:1","t":55,"c":228},{"s":"Fitting","curve":"TPD:1","t":60,"c":207},{"s":"Fitting","curve":"TPD:1","t":65,"c":188},{"s":"Fitting","curve":"TPD:1","t":70,"c":170},{"s":"Fitting","curve":"TPD:1","t":80,"c":143},{"s":"Fitting","curve":"TPD:1","t":90,"c":124},{"s":"Fitting","curve":"TPD:1","t":100,"c":108},{"s":"Fitting","curve":"TPD:1","t":110,"c":96},{"s":"Fitting","curve":"TPD:1","t":120,"c":86},{"s":"Fitting","curve":"TPD:1","t":130,"c":78},{"s":"Fitting","curve":"TPD:1","t":140,"c":72},{"s":"Fitting","curve":"TPD:1","t":150,"c":66.5},{"s":"Fitting","curve":"TPD:1","t":160,"c":61},{"s":"Fitting","curve":"TPD:1","t":170,"c":57},{"s":"Fitting","curve":"TPD:1","t":180,"c":52.5},{"s":"Fitting","curve":"TPD:1","t":190,"c":49},{"s":"Fitting","curve":"TPD:1","t":200,"c":46},{"s":"Fitting","curve":"TPD:1","t":210,"c":43},{"s":"Fitting","curve":"TPD:1","t":220,"c":41},{"s":"Fitting","curve":"TPD:1","t":230,"c":39},{"s":"Fitting","curve":"TPD:1","t":240,"c":37.5},{"s":"Fitting","curve":"TPD:1","t":250,"c":36},{"s":"Fitting","curve":"TPD:1","t":260,"c":35},{"s":"Fitting","curve":"TPD:1","t":270,"c":34.5},{"s":"Fitting","curve":"TPD:1","t":280,"c":34},{"s":"Fitting","curve":"TPD:1","t":290,"c":33},{"s":"Fitting","curve":"TPD:1","t":300,"c":33}
],
"legBot": [
{"s":"1","ly":1419},{"s":"TPD:1","ly":803},{"s":"Fitting","ly":448}
],
"annoBold": [
{"txt":"1:","t":89.7,"c":8.83},{"txt":"TPD:1 :","t":186.2,"c":9.04}
],
"anno": [
{"txt":"τ =4.76 ns","t":89.7,"c":4.92},{"txt":"χ²=1.117","t":89.7,"c":2.6},{"txt":"τ₁=17 ns (41%)","t":186.2,"c":4.92},{"txt":"τ₂=61 ns (59%)","t":186.2,"c":2.44},{"txt":"χ²=1.137","t":186.2,"c":1.06}
]
},
"vconcat": [
{
 "width": 464, "height": 377,
 "layer": [
  {"data": {"name": "el"}, "mark": {"type": "line", "strokeWidth": 1.5, "clip": true},
   "encoding": {
    "x": {"field": "wl", "type": "quantitative", "scale": {"domain": [400, 850], "nice": false, "zero": false},
          "axis": {"orient": "bottom", "title": "Wavelength (nm)", "values": [400,450,500,550,600,650,700,750,800,850], "labelExpr": "datum.value % 100 === 0 ? datum.label : ''"}},
    "y": {"field": "i", "type": "quantitative", "scale": {"domain": [0, 1.1], "nice": false, "zero": false},
          "axis": {"orient": "left", "title": "Norm. EL intensity (a.u.)", "titlePadding": 20, "values": [0,0.1,0.2,0.3,0.4,0.5,0.6,0.7,0.8,0.9,1.0], "format": ".1f", "labelExpr": "round(datum.value*10) % 2 === 0 ? datum.label : ''"}},
    "color": {"field": "s", "type": "nominal", "scale": {"domain": ["8 V","10 V","12 V","14 V","15 V","16 V","17 V","1","TPD:1"], "range": ["#000000","#ff0000","#0000ff","#008080","#ff00ff","#808000","#000080","#00ffff","#00ff00"]}, "legend": null}
   }},
  {"data": {"name": "pl"}, "mark": {"type": "line", "strokeWidth": 1.5, "clip": true},
   "encoding": {
    "x": {"field": "wl", "type": "quantitative", "scale": {"domain": [400, 850], "nice": false, "zero": false},
          "axis": {"orient": "top", "labels": false, "title": null, "tickSize": -5, "domain": false, "values": [400,450,500,550,600,650,700,750,800,850]}},
    "y": {"field": "i", "type": "quantitative", "scale": {"domain": [0, 1.1], "nice": false, "zero": false},
          "axis": {"orient": "right", "title": "Norm. PL intensity (a.u.)", "titlePadding": 11, "values": [0,0.1,0.2,0.3,0.4,0.5,0.6,0.7,0.8,0.9,1.0], "format": ".1f", "labelExpr": "round(datum.value*10) % 2 === 0 ? datum.label : ''"}},
    "color": {"field": "s", "type": "nominal", "scale": {"domain": ["8 V","10 V","12 V","14 V","15 V","16 V","17 V","1","TPD:1"], "range": ["#000000","#ff0000","#0000ff","#008080","#ff00ff","#808000","#000080","#00ffff","#00ff00"]}, "legend": null}
   }},
  {"data": {"name": "legTop"}, "mark": {"type": "rule", "strokeWidth": 1.5},
   "encoding": {
    "x": {"datum": 724, "type": "quantitative", "scale": {"domain": [400, 850], "nice": false, "zero": false}, "axis": null},
    "x2": {"datum": 767.6},
    "y": {"field": "ly", "type": "quantitative", "scale": {"domain": [0, 1.1], "nice": false, "zero": false}, "axis": null},
    "color": {"field": "s", "type": "nominal", "scale": {"domain": ["8 V","10 V","12 V","14 V","15 V","16 V","17 V","1","TPD:1"], "range": ["#000000","#ff0000","#0000ff","#008080","#ff00ff","#808000","#000080","#00ffff","#00ff00"]}, "legend": null}
   }},
  {"data": {"name": "legTop"}, "transform": [{"filter": "datum.s !== '1' && datum.s !== 'TPD:1'"}],
   "mark": {"type": "text", "align": "left", "baseline": "middle", "fontSize": 19, "color": "#000"},
   "encoding": {
    "x": {"datum": 772.4, "type": "quantitative", "scale": {"domain": [400, 850], "nice": false, "zero": false}, "axis": null},
    "y": {"field": "ly", "type": "quantitative", "scale": {"domain": [0, 1.1], "nice": false, "zero": false}, "axis": null},
    "text": {"field": "s"}
   }},
  {"data": {"name": "legTop"}, "transform": [{"filter": "datum.s === '1' || datum.s === 'TPD:1'"}],
   "mark": {"type": "text", "align": "left", "baseline": "middle", "fontSize": 19, "fontWeight": "bold", "color": "#000"},
   "encoding": {
    "x": {"datum": 772.4, "type": "quantitative", "scale": {"domain": [400, 850], "nice": false, "zero": false}, "axis": null},
    "y": {"field": "ly", "type": "quantitative", "scale": {"domain": [0, 1.1], "nice": false, "zero": false}, "axis": null},
    "text": {"field": "s"}
   }},
  {"data": {"values": [{"lab": "a)"}]},
   "mark": {"type": "text", "align": "left", "baseline": "middle", "fontSize": 25, "color": "#000"},
   "encoding": {
    "x": {"datum": 408.5, "type": "quantitative", "scale": {"domain": [400, 850], "nice": false, "zero": false}, "axis": null},
    "y": {"datum": 1.026, "type": "quantitative", "scale": {"domain": [0, 1.1], "nice": false, "zero": false}, "axis": null},
    "text": {"field": "lab"}
   }},
  {"data": {"values": [{"x1": 552.3, "x2": 578, "y": 0.384}, {"x1": 678.3, "x2": 702, "y": 0.3356}, {"x1": 639, "x2": 663.8, "y": 0.248}]},
   "mark": {"type": "rule", "strokeWidth": 1.2, "color": "#222"},
   "encoding": {
    "x": {"field": "x1", "type": "quantitative", "scale": {"domain": [400, 850], "nice": false, "zero": false}, "axis": null},
    "x2": {"field": "x2"},
    "y": {"field": "y", "type": "quantitative", "scale": {"domain": [0, 1.1], "nice": false, "zero": false}, "axis": null}
   }},
  {"data": {"values": [{"x": 577.8, "y": 0.384}, {"x": 702.1, "y": 0.3356}]},
   "mark": {"type": "point", "shape": "triangle-right", "filled": true, "size": 55, "color": "#000", "opacity": 1},
   "encoding": {
    "x": {"field": "x", "type": "quantitative", "scale": {"domain": [400, 850], "nice": false, "zero": false}, "axis": null},
    "y": {"field": "y", "type": "quantitative", "scale": {"domain": [0, 1.1], "nice": false, "zero": false}, "axis": null}
   }},
  {"data": {"values": [{"x": 638.4, "y": 0.248}]},
   "mark": {"type": "point", "shape": "triangle-left", "filled": true, "size": 55, "color": "#000", "opacity": 1},
   "encoding": {
    "x": {"field": "x", "type": "quantitative", "scale": {"domain": [400, 850], "nice": false, "zero": false}, "axis": null},
    "y": {"field": "y", "type": "quantitative", "scale": {"domain": [0, 1.1], "nice": false, "zero": false}, "axis": null}
   }},
  {"data": {"values": [{"x": 670.3, "y": 0.246}]},
   "mark": {"type": "point", "shape": "circle", "filled": false, "size": 210, "color": "#000", "strokeWidth": 1, "opacity": 1},
   "encoding": {
    "x": {"field": "x", "type": "quantitative", "scale": {"domain": [400, 850], "nice": false, "zero": false}, "axis": null},
    "y": {"field": "y", "type": "quantitative", "scale": {"domain": [0, 1.1], "nice": false, "zero": false}, "axis": null}
   }}
 ],
 "resolve": {"scale": {"y": "independent"}, "axis": {"x": "independent", "y": "independent"}}
},
{
 "width": 464, "height": 377,
 "layer": [
  {"data": {"name": "decay"}, "transform": [{"filter": "datum.s === 'TPD:1'"}],
   "mark": {"type": "line", "strokeWidth": 1.3, "clip": true},
   "encoding": {
    "x": {"field": "t", "type": "quantitative", "scale": {"domain": [0, 300], "nice": false, "zero": false},
          "axis": {"orient": "bottom", "title": "Time (ns)", "values": [0,25,50,75,100,125,150,175,200,225,250,275,300], "labelExpr": "datum.value % 50 === 0 ? datum.label : ''"}},
    "y": {"field": "c", "type": "quantitative", "scale": {"type": "log", "domain": [0.4, 2600], "nice": false},
          "axis": {"orient": "left", "title": "Counts", "titlePadding": 4, "values": [0.5,0.6,0.7,0.8,0.9,1,2,3,4,5,6,7,8,9,10,20,30,40,50,60,70,80,90,100,200,300,400,500,600,700,800,900,1000,2000], "labelExpr": "(datum.value === 1 || datum.value === 10 || datum.value === 100 || datum.value === 1000) ? format(datum.value, 'd') : ''"}},
    "color": {"field": "s", "type": "nominal", "scale": {"domain": ["1","TPD:1","Fitting"], "range": ["#000000","#0a0a9a","#ff0000"]}, "legend": null}
   }},
  {"data": {"name": "decay"}, "transform": [{"filter": "datum.s === '1'"}],
   "mark": {"type": "line", "strokeWidth": 1.8, "clip": true},
   "encoding": {
    "x": {"field": "t", "type": "quantitative", "scale": {"domain": [0, 300], "nice": false, "zero": false}, "axis": null},
    "y": {"field": "c", "type": "quantitative", "scale": {"type": "log", "domain": [0.4, 2600], "nice": false}, "axis": null},
    "color": {"field": "s", "type": "nominal", "scale": {"domain": ["1","TPD:1","Fitting"], "range": ["#000000","#0a0a9a","#ff0000"]}, "legend": null}
   }},
  {"data": {"name": "fit"},
   "mark": {"type": "line", "strokeWidth": 1.4, "clip": true},
   "encoding": {
    "x": {"field": "t", "type": "quantitative", "scale": {"domain": [0, 300], "nice": false, "zero": false}, "axis": null},
    "y": {"field": "c", "type": "quantitative", "scale": {"type": "log", "domain": [0.4, 2600], "nice": false}, "axis": null},
    "color": {"field": "s", "type": "nominal", "scale": {"domain": ["1","TPD:1","Fitting"], "range": ["#000000","#0a0a9a","#ff0000"]}, "legend": null},
    "detail": {"field": "curve"}
   }},
  {"data": {"name": "legBot"}, "mark": {"type": "rule", "strokeWidth": 1.5},
   "encoding": {
    "x": {"datum": 187.5, "type": "quantitative", "scale": {"domain": [0, 300], "nice": false, "zero": false}, "axis": null},
    "x2": {"datum": 216.6},
    "y": {"field": "ly", "type": "quantitative", "scale": {"type": "log", "domain": [0.4, 2600], "nice": false}, "axis": null},
    "color": {"field": "s", "type": "nominal", "scale": {"domain": ["1","TPD:1","Fitting"], "range": ["#000000","#0a0a9a","#ff0000"]}, "legend": null}
   }},
  {"data": {"name": "legBot"}, "transform": [{"filter": "datum.s !== 'Fitting'"}],
   "mark": {"type": "text", "align": "left", "baseline": "middle", "fontSize": 19, "fontWeight": "bold", "color": "#000"},
   "encoding": {
    "x": {"datum": 220.5, "type": "quantitative", "scale": {"domain": [0, 300], "nice": false, "zero": false}, "axis": null},
    "y": {"field": "ly", "type": "quantitative", "scale": {"type": "log", "domain": [0.4, 2600], "nice": false}, "axis": null},
    "text": {"field": "s"}
   }},
  {"data": {"name": "legBot"}, "transform": [{"filter": "datum.s === 'Fitting'"}],
   "mark": {"type": "text", "align": "left", "baseline": "middle", "fontSize": 19, "color": "#000"},
   "encoding": {
    "x": {"datum": 220.5, "type": "quantitative", "scale": {"domain": [0, 300], "nice": false, "zero": false}, "axis": null},
    "y": {"field": "ly", "type": "quantitative", "scale": {"type": "log", "domain": [0.4, 2600], "nice": false}, "axis": null},
    "text": {"field": "s"}
   }},
  {"data": {"name": "annoBold"},
   "mark": {"type": "text", "align": "left", "baseline": "middle", "fontSize": 19, "fontWeight": "bold", "color": "#000"},
   "encoding": {
    "x": {"field": "t", "type": "quantitative", "scale": {"domain": [0, 300], "nice": false, "zero": false}, "axis": null},
    "y": {"field": "c", "type": "quantitative", "scale": {"type": "log", "domain": [0.4, 2600], "nice": false}, "axis": null},
    "text": {"field": "txt"}
   }},
  {"data": {"name": "anno"},
   "mark": {"type": "text", "align": "left", "baseline": "middle", "fontSize": 19, "color": "#000"},
   "encoding": {
    "x": {"field": "t", "type": "quantitative", "scale": {"domain": [0, 300], "nice": false, "zero": false}, "axis": null},
    "y": {"field": "c", "type": "quantitative", "scale": {"type": "log", "domain": [0.4, 2600], "nice": false}, "axis": null},
    "text": {"field": "txt"}
   }},
  {"data": {"values": [{"lab": "b)"}]},
   "mark": {"type": "text", "align": "left", "baseline": "middle", "fontSize": 25, "color": "#000"},
   "encoding": {
    "x": {"datum": 4.5, "type": "quantitative", "scale": {"domain": [0, 300], "nice": false, "zero": false}, "axis": null},
    "y": {"datum": 1722, "type": "quantitative", "scale": {"type": "log", "domain": [0.4, 2600], "nice": false}, "axis": null},
    "text": {"field": "lab"}
   }}
 ],
 "resolve": {"axis": {"x": "independent", "y": "independent"}}
}
]
}
